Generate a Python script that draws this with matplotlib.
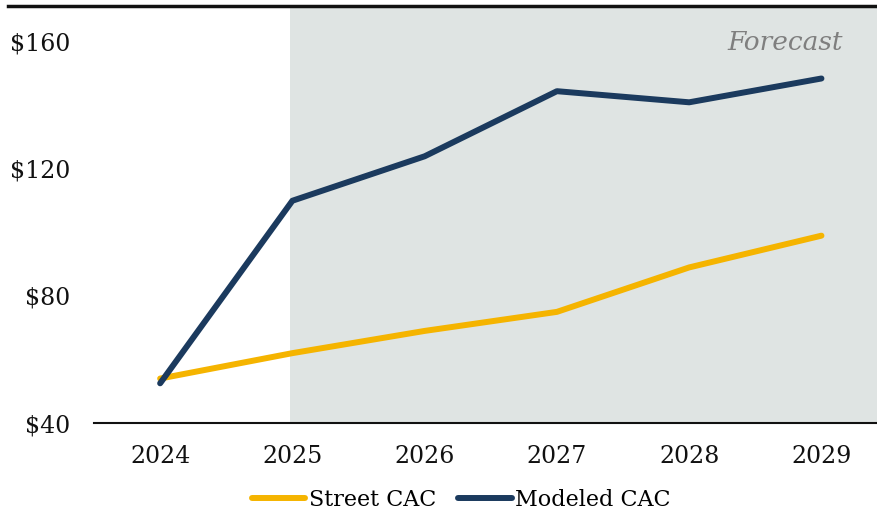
import matplotlib
matplotlib.use("Agg")
import matplotlib.pyplot as plt
from matplotlib.lines import Line2D

years = ["2024", "2025", "2026", "2027", "2028", "2029"]
street_cac = [54, 62, 69, 75, 89, 99]
modeled_cac = [52.5, 110, 124, 144.5, 141, 148.5]
y_ticks = [40, 80, 120, 160]
y_tick_labels = ["$40", "$80", "$120", "$160"]

NAVY = "#1b3a5e"
GOLD = "#f5b400"
SHADE = "#dfe4e3"

plt.rcParams["font.family"] = ["DejaVu Serif"]

fig = plt.figure(figsize=(8.77, 5.11), dpi=100)
ax = fig.add_axes([94 / 877, 1 - 423 / 511, (877 - 94) / 877, (423 - 8) / 511])

x = list(range(len(years)))
ax.axvspan(0.985, 6, color=SHADE, zorder=0, lw=0)

ax.plot(x, street_cac, color=GOLD, lw=4.3, solid_capstyle="round",
        solid_joinstyle="round", zorder=3)
ax.plot(x, modeled_cac, color=NAVY, lw=4.3, solid_capstyle="round",
        solid_joinstyle="round", zorder=4)

ax.set_xlim(-0.5, 5.42)
ax.set_ylim(40, 170.7)
ax.set_xticks(x)
ax.set_xticklabels(years, fontsize=17)
ax.set_yticks(y_ticks)
ax.set_yticklabels(y_tick_labels, fontsize=17)
ax.tick_params(axis="both", length=0, colors="#111111")
ax.tick_params(axis="x", pad=16)
ax.tick_params(axis="y", pad=17)
for s in ["top", "left", "right"]:
    ax.spines[s].set_visible(False)
ax.spines["bottom"].set_linewidth(1.5)
ax.spines["bottom"].set_color("#111111")
ax.patch.set_alpha(0)

ax.text(0.9566, 0.918, "Forecast", transform=ax.transAxes, ha="right", va="center",
        fontsize=19, style="italic", color="#7f7f7f")

# header rule above the plot
fig.add_artist(Line2D([8 / 877, 1], [1 - 6 / 511, 1 - 6 / 511], color="#111111", lw=2.5))

handles = [Line2D([], [], color=GOLD, lw=4.3, solid_capstyle="round"),
           Line2D([], [], color=NAVY, lw=4.3, solid_capstyle="round")]
fig.legend(handles, ["Street CAC", "Modeled CAC"], loc="center",
           bbox_to_anchor=(0.526, 1 - 500 / 511), ncol=2, frameon=False,
           fontsize=16, handlelength=2.4, handletextpad=0.15, columnspacing=1.0)

fig.savefig("out.png", dpi=100)
